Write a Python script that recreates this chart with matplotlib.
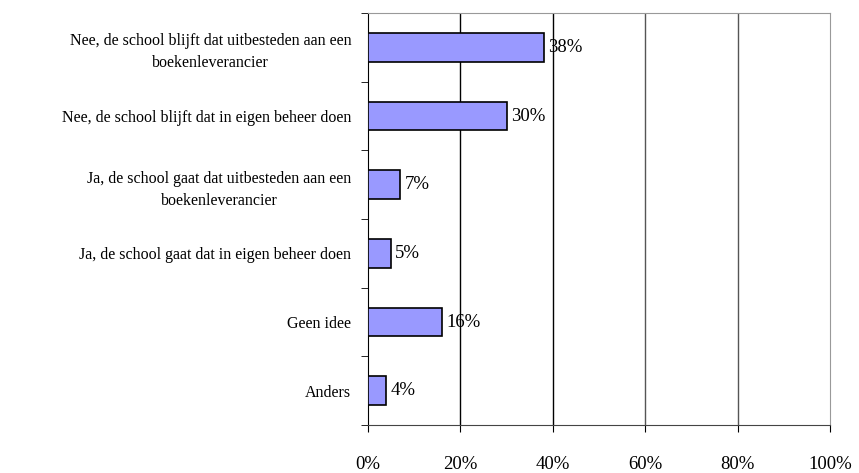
import matplotlib.pyplot as plt
from matplotlib.ticker import PercentFormatter

categories = [
    "Nee, de school blijft dat uitbesteden aan een\nboekenleverancier",
    "Nee, de school blijft dat in eigen beheer doen",
    "Ja, de school gaat dat uitbesteden aan een\nboekenleverancier",
    "Ja, de school gaat dat in eigen beheer doen",
    "Geen idee",
    "Anders",
]
values = [38, 30, 7, 5, 16, 4]
x_ticks = [0, 20, 40, 60, 80, 100]

plt.rcParams['font.family'] = ['Liberation Serif', 'DejaVu Serif']

fig = plt.figure(figsize=(8.59, 4.73), dpi=100)
ax = fig.add_axes([368 / 859, 1 - 425 / 473, 462 / 859, 412 / 473])

pos = list(range(len(categories)))
ax.barh(pos, values, height=0.42, color='#9999FF', edgecolor='black', linewidth=1.2, zorder=3)

for p, v in zip(pos, values):
    ax.text(v + 0.9, p, f"{v}%", va='center', ha='left', fontsize=13.5, zorder=4)

ax.set_xlim(0, 100)
ax.set_ylim(len(categories) - 0.5, -0.5)
ax.set_xticks(x_ticks)
ax.xaxis.set_major_formatter(PercentFormatter(decimals=0))
ax.tick_params(axis='x', labelsize=13.5, length=5, pad=17, direction='out')
ax.set_yticks(pos)
ax.set_yticklabels(categories, fontsize=11.5, ha='right', multialignment='center',
                   linespacing=1.5)
ax.tick_params(axis='y', length=0, pad=12)

# separator ticks between categories on the y axis
ax.set_yticks([p - 0.5 for p in pos] + [len(pos) - 0.5], minor=True)
ax.tick_params(axis='y', which='minor', length=5, direction='out')

for x in x_ticks[1:-1]:
    ax.axvline(x, color='black' if x < 60 else '#555555', linewidth=1, zorder=1)

ax.spines['top'].set_color('#999999')
ax.spines['right'].set_color('#999999')
ax.spines['left'].set_color('black')
ax.spines['bottom'].set_color('#444444')

fig.savefig("out.png", dpi=100)
